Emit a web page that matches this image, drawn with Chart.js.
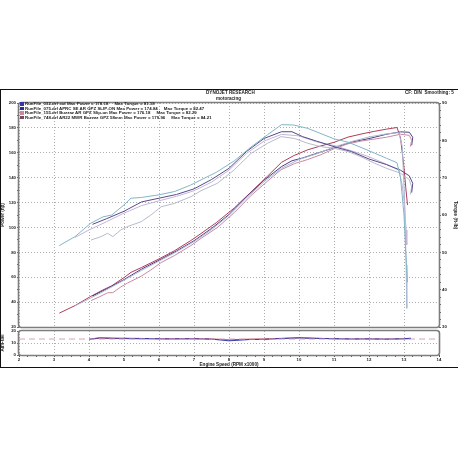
<!DOCTYPE html>
<html>
<head>
<meta charset="utf-8">
<title>Dynojet run comparison</title>
<script src="https://cdn.jsdelivr.net/npm/chart.js@4.4.1/dist/chart.umd.min.js"></script>
<style>
  html, body { margin:0; padding:0; background:#fff; }
  #page { position:relative; width:458px; height:458px; overflow:hidden; font-family:"Liberation Sans", Arial, sans-serif; font-weight:bold; color:#222; }
  #sheet { position:absolute; left:0; top:89px; width:458px; height:279px; border:1px solid #111; border-right:none; box-sizing:border-box; }
  .txt { position:absolute; white-space:pre; line-height:1; font-size:4.6px; will-change:transform; }
  #main { position:absolute; left:0; top:96px; }
  #afr { position:absolute; left:0; top:326px; }
  #legend { position:absolute; left:20px; top:101.7px; font-size:4.4px; will-change:transform; }
  #legend div { height:4.6px; line-height:4.6px; white-space:pre; }
  #legend .sq { display:inline-block; width:4px; height:3.6px; margin-right:1px; vertical-align:middle; }
</style>
</head>
<body>
<div id="page">
  <div id="sheet"></div>
  <div class="txt" style="left:206px; top:91.2px;">DYNOJET RESEARCH</div>
  <div class="txt" style="left:216px; top:96.6px;">motoracing</div>
  <div class="txt" style="right:4px; top:91.2px;">CF: DIN  Smoothing: 5</div>
  <canvas id="main" width="458" height="235"></canvas>
  <canvas id="afr" width="458" height="44"></canvas>
  <div id="legend"></div>
</div>
<script>
// legend text
var runNames = [
  'RunFile_032.drf std Max Power = 178.18',
  'RunFile_075.drf APRC SE AR GPZ SLIP-ON Max Power = 174.84',
  'RunFile_155.drf Buzzaz AR GPZ Slip-on Max Power = 176.18',
  'RunFile_748.drf AR22 MWR Buzzaz GPZ 58mm Max Power = 179.96'
];
var runTorque = ['Max Torque = 81.18', 'Max Torque = 82.47', 'Max Torque = 82.29', 'Max Torque = 84.21'];
var legendColors = ['#3434a8', '#2c2ca0', '#c98a98', '#7a4a68'];

// run A : purple torque, dark purple power (hooks at the end)
var rpmA = [4.1,4.5,5.0,5.5,6.0,6.5,7.0,7.5,8.0,8.5,9.0,9.5,9.8,10.1,10.5,11.0,11.5,12.0,12.5,12.9,13.15,13.25,13.22];
var torqueA = [57.5,59.0,61.0,63.5,64.5,65.5,67.0,69.5,72.5,77.0,80.5,82.3,82.3,81.0,79.8,78.3,77.0,75.0,73.5,72.0,70.5,68.5,66.0];
var powerA = [44.9,50.6,58.1,66.5,73.7,81.1,89.3,99.2,110.4,124.6,137.9,148.9,153.6,155.8,159.5,164.0,168.6,171.4,174.9,176.8,176.5,172.5,166.0];

// run B : teal torque, red power (drops at the end)
var rpmB = [3.15,3.6,4.05,4.4,4.65,5.0,5.2,5.5,6.0,6.45,6.9,7.2,7.65,8.15,8.6,9.1,9.5,9.85,10.25,10.6,11.0,11.4,11.8,12.15,12.5,12.8,12.9,13.0,13.05,13.1];
var torqueB = [51.8,54.2,57.8,59.5,60.0,62.7,64.5,64.7,65.4,66.3,68.0,69.4,71.5,74.5,78.0,81.5,84.2,84.1,83.2,81.9,80.4,79.5,78.0,76.6,75.2,74.0,70.0,60.0,50.0,42.0];
var powerB = [31.1,37.2,44.6,49.8,53.1,59.7,63.9,67.8,74.7,81.4,89.3,95.1,104.1,115.6,127.7,141.2,152.3,157.7,162.4,165.3,168.4,172.6,175.2,177.2,179.0,180.3,172.0,148.0,132.0,118.0];

// run C : light grey torque, pink power (hooks at the end)
var rpmC = [4.06,4.34,4.53,4.68,4.91,5.1,5.49,5.77,6.06,6.44,6.91,7.2,7.67,8.15,8.63,9.1,9.49,9.87,10.25,10.63,11.0,11.4,11.77,12.15,12.5,12.9,13.15,13.22,13.18];
var torqueC = [53.3,54.2,55.1,54.2,56.0,56.9,58.2,60.0,62.2,63.1,64.9,66.5,68.5,72.1,76.5,79.2,81.0,80.5,79.2,78.3,77.9,77.0,75.6,73.9,72.5,71.2,69.5,67.5,65.5];
var powerC = [41.2,44.8,47.5,47.6,52.2,55.3,60.8,65.9,71.8,77.4,85.4,91.2,100.0,111.9,125.7,137.2,146.4,151.3,154.6,158.5,163.2,167.2,169.4,171.0,172.5,174.9,174.0,170.0,165.0];

// run D : lavender torque, pale blue power (drops at the end)
var rpmD = [3.6,4.0,4.5,5.0,5.5,6.0,6.5,7.0,7.5,8.0,8.5,9.0,9.5,10.0,10.5,11.0,11.5,12.0,12.5,12.85,12.95,13.02,13.06,13.08];
var torqueD = [54.0,56.0,58.2,60.5,62.5,63.8,65.0,66.5,68.8,72.0,76.5,79.8,81.6,81.2,79.6,78.6,77.2,75.6,73.6,72.0,68.0,62.0,56.0,52.0];
var powerD = [37.0,42.6,49.9,57.6,65.5,72.9,80.4,88.6,98.2,109.7,123.8,136.7,147.6,154.6,159.1,164.6,169.0,172.7,175.2,176.2,165.0,120.0,70.0,35.0];

// air/fuel panel
var rpmAF = [4.0,4.3,4.8,5.5,6.2,7.0,7.5,7.8,8.0,8.2,8.6,9.0,9.5,10.0,10.5,11.0,11.5,12.0,12.5,13.0,13.2];
var afrBlue = [13.2,14.3,14.0,13.8,13.4,13.5,13.2,12.4,11.8,12.2,12.9,13.0,13.7,14.2,13.8,13.6,13.4,13.5,13.3,13.6,14.0];
var afrRed = [13.0,14.0,13.7,13.5,13.5,13.6,13.4,12.9,12.6,12.9,13.2,13.4,13.9,14.4,14.0,13.5,13.3,13.3,13.2,13.4,13.6];
var rpmRef = [2, 14];
var afrRef = [13.3, 13.3];

var gridDot = '#adadad';
var tickFont = {family:'Liberation Sans', size:4.3, weight:'bold'};
var titleFont = {family:'Liberation Sans', size:4.6, weight:'bold'};

function pts(xs, ys) {
  return xs.map(function(x, i) { return {x: x, y: ys[i]}; });
}
function line(xs, ys, color, axis) {
  return {data: pts(xs, ys), borderColor: color, borderWidth: 1, pointRadius: 0, yAxisID: axis, tension: 0};
}

// legend rows
var lg = document.getElementById('legend');
for (var i = 0; i < runNames.length; i++) {
  var row = document.createElement('div');
  row.innerHTML = '<span class="sq" style="background:' + legendColors[i] + '"></span>' + runNames[i] + '     ' + runTorque[i];
  lg.appendChild(row);
}

// rounded grey frame round each plot
var framePlugin = {
  id: 'frame',
  afterDatasetsDraw: function(chart) {
    var a = chart.chartArea, ctx = chart.ctx;
    ctx.save();
    ctx.strokeStyle = '#7d7d7d';
    ctx.lineWidth = 1.6;
    ctx.beginPath();
    ctx.roundRect(a.left - 0.5, a.top - 0.5, a.right - a.left + 1, a.bottom - a.top + 1, 3);
    ctx.stroke();
    ctx.restore();
  }
};

var mainSets = [
  line(rpmB, torqueB, '#82b6c8', 'y2'),
  line(rpmA, torqueA, '#56498c', 'y2'),
  line(rpmC, torqueC, '#b7bbcb', 'y2'),
  line(rpmD, torqueD, '#c4b6d6', 'y2'),
  line(rpmD, powerD, '#a9b9d2', 'y'),
  line(rpmC, powerC, '#c88aa0', 'y'),
  line(rpmA, powerA, '#4e3f86', 'y'),
  line(rpmB, powerB, '#b23a5a', 'y')
];

new Chart(document.getElementById('main'), {
  type: 'line',
  data: {datasets: mainSets},
  options: {
    responsive: false,
    animation: false,
    layout: {padding: {top: 7, bottom: 4, left: 0, right: 0}},
    plugins: {legend: {display: false}, tooltip: {enabled: false}},
    scales: {
      x: {
        type: 'linear', min: 2, max: 14,
        ticks: {display: false, stepSize: 1},
        grid: {color: gridDot, drawTicks: false},
        border: {display: false, dash: [1, 2]},
        afterFit: function(s) { s.height = 0; }
      },
      y: {
        position: 'left', min: 20, max: 200,
        ticks: {stepSize: 10, autoSkip: false, padding: 1, font: tickFont, color: '#222',
          callback: function(v) { return v % 20 === 0 ? v : ''; }},
        grid: {color: function(c) { return c.tick && c.tick.value % 20 === 0 ? gridDot : 'rgba(0,0,0,0)'; },
          tickColor: '#666', tickLength: 2},
        border: {display: false, dash: [1, 2]},
        title: {display: true, text: 'Power (hp)', font: titleFont, color: '#222', padding: 0},
        afterFit: function(s) { s.width = 19; }
      },
      y2: {
        position: 'right', min: 30, max: 90,
        ticks: {stepSize: 2, autoSkip: false, padding: 1, font: tickFont, color: '#222',
          callback: function(v) { return v % 10 === 0 ? v : ''; }},
        grid: {drawOnChartArea: false, tickColor: '#666', tickLength: 2},
        border: {display: false},
        title: {display: true, text: 'Torque (ft-lb)', font: titleFont, color: '#222', padding: 0},
        afterFit: function(s) { s.width = 19; }
      }
    }
  },
  plugins: [framePlugin]
});

new Chart(document.getElementById('afr'), {
  type: 'line',
  data: {datasets: [
    Object.assign(line(rpmRef, afrRef, '#d8a4b4', 'y'), {borderDash: [6, 4]}),
    line(rpmAF, afrBlue, '#3a3ab0', 'y'),
    line(rpmAF, afrRed, '#c04456', 'y')
  ]},
  options: {
    responsive: false,
    animation: false,
    layout: {padding: {top: 5, bottom: 3, left: 0, right: 19}},
    plugins: {legend: {display: false}, tooltip: {enabled: false}},
    scales: {
      x: {
        type: 'linear', min: 2, max: 14,
        ticks: {stepSize: 0.25, autoSkip: false, maxRotation: 0, padding: 0, font: tickFont, color: '#222',
          callback: function(v) { return Number.isInteger(v) ? v : ''; }},
        grid: {color: function(c) { return c.tick && Number.isInteger(c.tick.value) ? gridDot : 'rgba(0,0,0,0)'; },
          tickColor: '#555', tickLength: 2},
        border: {display: false, dash: [1, 2]},
        title: {display: true, text: 'Engine Speed (RPM x1000)', font: titleFont, color: '#222', padding: 0},
        afterFit: function(s) { s.height = 12; }
      },
      y: {
        min: 0, max: 20,
        ticks: {stepSize: 10, autoSkip: false, padding: 1, font: tickFont, color: '#222'},
        grid: {color: function(c) { return c.tick && c.tick.value === 10 ? gridDot : 'rgba(0,0,0,0)'; },
          tickColor: '#666', tickLength: 2},
        border: {display: false, dash: [1, 2]},
        title: {display: true, text: 'Air/Fuel', font: titleFont, color: '#222', padding: 0},
        afterFit: function(s) { s.width = 19; }
      }
    }
  },
  plugins: [framePlugin]
});
</script>
</body>
</html>
